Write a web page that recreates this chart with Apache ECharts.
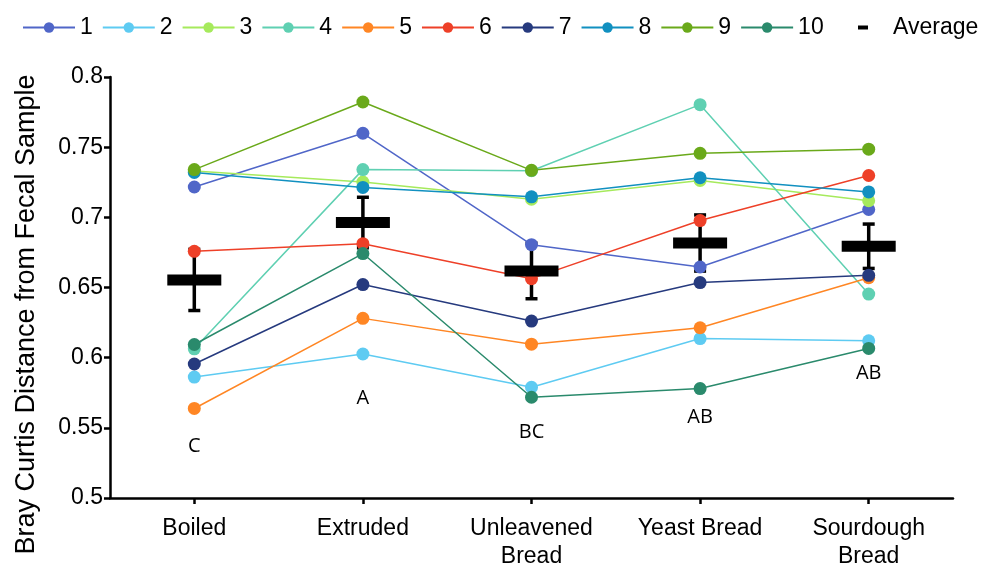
<!DOCTYPE html>
<html>
<head>
<meta charset="utf-8">
<script src="https://cdn.jsdelivr.net/npm/echarts@6/dist/echarts.min.js"></script>
<style>
  html, body { margin: 0; padding: 0; background: #fff; }
  #chart { width: 984px; height: 571px; }
</style>
</head>
<body>
<div id="chart"></div>
<script>
// Preparation methods along the x axis
const categories = ['Boiled', 'Extruded', 'Unleavened\nBread', 'Yeast Bread', 'Sourdough\nBread'];

// Bray Curtis distance from the fecal sample, one array per subject
const subject1  = [0.7216, 0.7599, 0.6805, 0.6646, 0.7056];
const subject2  = [0.5862, 0.6026, 0.5789, 0.6136, 0.6120];
const subject3  = [0.7330, 0.7251, 0.7129, 0.7263, 0.7118];
const subject4  = [0.6063, 0.7340, 0.7332, 0.7803, 0.6453];
const subject5  = [0.5638, 0.6280, 0.6096, 0.6213, 0.6570];
const subject6  = [0.6758, 0.6812, 0.6563, 0.6977, 0.7298];
const subject7  = [0.5955, 0.6521, 0.6261, 0.6535, 0.6587];
const subject8  = [0.7320, 0.7213, 0.7146, 0.7282, 0.7181];
const subject9  = [0.7340, 0.7822, 0.7335, 0.7456, 0.7486];
const subject10 = [0.6094, 0.6742, 0.5718, 0.5780, 0.6066];

const subjectNames = ['1', '2', '3', '4', '5', '6', '7', '8', '9', '10'];
const subjectValues = [subject1, subject2, subject3, subject4, subject5,
                       subject6, subject7, subject8, subject9, subject10];
const subjectColors = ['#5066c8', '#5ecbf2', '#a6ea5c', '#5fd0b2', '#ff8624',
                       '#ee4028', '#263a7e', '#1190c0', '#6aa91a', '#2a8a6c'];

// Group mean and its error (half-length of the error bar)
const averages = [0.6554, 0.6963, 0.6618, 0.6817, 0.6794];
const errors   = [0.0218, 0.0180, 0.0198, 0.0200, 0.0158];

// Significance groupings and the height at which each letter sits
const groupLetters = ['C', 'A', 'BC', 'AB', 'AB'];
const letterY      = [0.5366, 0.5711, 0.5467, 0.5573, 0.5889];

// y axis scale
const yMin = 0.5, yMax = 0.8, yStep = 0.05;

const FONT = "'Liberation Sans', Arial, sans-serif";

const chart = echarts.init(document.getElementById('chart'), null, { renderer: 'canvas' });

const lineSeries = subjectNames.map((name, i) => ({
  name,
  type: 'line',
  data: subjectValues[i],
  symbol: 'circle',
  symbolSize: 13,
  lineStyle: { width: 1.5, color: subjectColors[i] },
  itemStyle: { color: subjectColors[i], opacity: 1 },
  emphasis: { disabled: true },
  z: 3,
  animation: false
}));

const errorSeries = {
  name: 'error',
  type: 'custom',
  data: averages.map((m, i) => [i, m - errors[i], m + errors[i]]),
  z: 1,
  silent: true,
  animation: false,
  renderItem(params, api) {
    const x = api.value(0);
    const lo = api.coord([x, api.value(1)]);
    const hi = api.coord([x, api.value(2)]);
    const half = 6;
    const st = { stroke: '#000', lineWidth: 3.5 };
    return {
      type: 'group',
      children: [
        { type: 'line', shape: { x1: lo[0], y1: lo[1], x2: hi[0], y2: hi[1] }, style: st },
        { type: 'line', shape: { x1: lo[0] - half, y1: lo[1], x2: lo[0] + half, y2: lo[1] }, style: st },
        { type: 'line', shape: { x1: hi[0] - half, y1: hi[1], x2: hi[0] + half, y2: hi[1] }, style: st }
      ]
    };
  }
};

const averageSeries = {
  name: 'Average',
  type: 'scatter',
  data: averages,
  symbol: 'rect',
  symbolSize: [54, 11],
  itemStyle: { color: '#000', opacity: 1 },
  emphasis: { disabled: true },
  z: 6,
  animation: false
};

const letterSeries = {
  name: 'groups',
  type: 'scatter',
  data: letterY.map((y, i) => [i, y]),
  symbolSize: 0,
  itemStyle: { opacity: 1 },
  silent: true,
  z: 7,
  animation: false,
  label: {
    show: true,
    position: 'inside',
    formatter: p => groupLetters[p.dataIndex],
    fontFamily: "'Open Sans', sans-serif",
    fontSize: 20,
    color: '#000',
    opacity: 1
  }
};

chart.setOption({
  backgroundColor: '#fff',
  animation: false,
  textStyle: { fontFamily: FONT },
  legend: [
    {
      data: subjectNames,
      left: 17,
      top: 11,
      itemWidth: 52,
      itemHeight: 13,
      itemGap: 9,
      textStyle: { fontFamily: FONT, fontSize: 23, color: '#000' }
    },
    {
      data: ['Average'],
      left: 853,
      top: 11,
      icon: 'rect',
      itemWidth: 10,
      itemHeight: 4,
      textStyle: { fontFamily: FONT, fontSize: 23, color: '#000', padding: [0, 0, 0, 20] }
    }
  ],
  grid: { left: 110, right: 31, top: 77, bottom: 68, containLabel: false },
  xAxis: {
    type: 'category',
    data: categories,
    boundaryGap: true,
    axisLine: { show: true, lineStyle: { color: '#000', width: 2.5 } },
    axisTick: { show: true, alignWithLabel: true, length: 6, lineStyle: { color: '#000', width: 2.5 } },
    axisLabel: { fontFamily: FONT, fontSize: 23, color: '#000', margin: 17, lineHeight: 28, interval: 0 },
    splitLine: { show: false }
  },
  yAxis: {
    type: 'value',
    min: yMin,
    max: yMax,
    interval: yStep,
    name: 'Bray Curtis Distance from Fecal Sample',
    nameLocation: 'middle',
    nameGap: 70,
    nameTextStyle: { fontFamily: FONT, fontSize: 27, color: '#000', padding: [0, 54, 0, 0] },
    axisLine: { show: true, lineStyle: { color: '#000', width: 2.5 } },
    axisTick: { show: true, length: 6, lineStyle: { color: '#000', width: 2.5 } },
    axisLabel: { fontFamily: FONT, fontSize: 23, color: '#000', margin: 7,
                 formatter: v => String(+v.toFixed(2)) },
    splitLine: { show: false }
  },
  series: [errorSeries, ...lineSeries, averageSeries, letterSeries]
});
</script>
</body>
</html>
